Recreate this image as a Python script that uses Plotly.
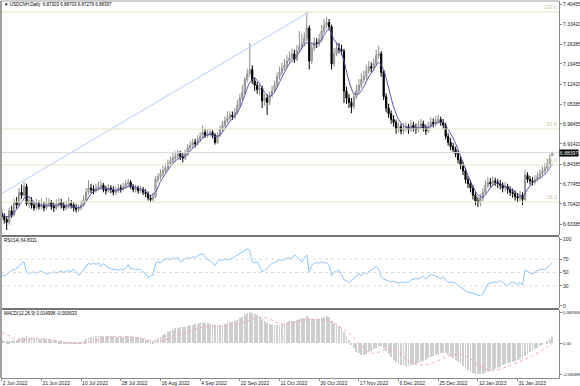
import plotly.graph_objects as go
from plotly.subplots import make_subplots

# ---------------- data ----------------
OPEN = [6.672,6.660,6.650,6.640,6.680,6.665,6.710,6.700,6.745,6.735,6.765,6.705,6.715,6.700,6.690,6.705,6.695,6.700,6.690,6.705,
        6.710,6.695,6.690,6.700,6.710,6.700,6.690,6.695,6.705,6.700,6.690,6.685,6.690,6.700,6.720,6.745,6.760,6.755,6.750,6.760,
        6.765,6.770,6.755,6.750,6.760,6.755,6.745,6.750,6.760,6.755,6.765,6.775,6.780,6.765,6.755,6.760,6.750,6.755,6.745,6.740,
        6.725,6.720,6.730,6.790,6.800,6.810,6.820,6.830,6.845,6.855,6.865,6.870,6.880,6.870,6.865,6.880,6.900,6.910,6.920,6.915,
        6.930,6.940,6.955,6.945,6.950,6.955,6.945,6.920,6.945,6.965,6.980,6.995,7.005,7.015,7.010,7.025,7.050,7.075,7.095,7.140,
        7.160,7.175,7.135,7.120,7.105,7.110,7.065,7.075,7.060,7.085,7.100,7.120,7.150,7.165,7.180,7.190,7.205,7.215,7.230,7.210,
        7.240,7.255,7.265,7.285,7.320,7.205,7.250,7.270,7.265,7.280,7.310,7.330,7.340,7.325,7.195,7.230,7.250,7.245,7.240,7.100,
        7.075,7.060,7.045,7.080,7.100,7.120,7.140,7.150,7.170,7.185,7.180,7.195,7.225,7.230,7.165,7.080,7.040,7.020,7.000,6.990,
        6.965,6.975,6.960,6.970,6.975,6.965,6.980,6.970,6.965,6.975,6.985,6.970,6.960,6.975,6.990,6.985,6.995,7.000,6.990,6.980,
        6.940,6.920,6.905,6.895,6.880,6.860,6.840,6.820,6.790,6.775,6.760,6.735,6.715,6.710,6.725,6.745,6.770,6.780,6.775,6.785,
        6.780,6.775,6.770,6.760,6.765,6.755,6.745,6.740,6.730,6.725,6.735,6.720,6.805,6.790,6.785,6.780,6.790,6.800,6.810,6.820,
        6.830,6.845,6.87303]
HIGH = [6.688,6.672,6.662,6.692,6.698,6.722,6.728,6.760,6.772,6.782,6.775,6.732,6.728,6.712,6.722,6.716,6.722,6.712,6.726,6.724,
        6.718,6.708,6.720,6.726,6.722,6.712,6.716,6.728,6.718,6.710,6.704,6.702,6.716,6.735,6.760,6.787,6.775,6.770,6.776,6.782,
        6.784,6.778,6.768,6.774,6.770,6.766,6.764,6.775,6.772,6.778,6.788,6.792,6.788,6.774,6.772,6.768,6.768,6.764,6.756,6.748,
        6.736,6.742,6.800,6.812,6.826,6.838,6.846,6.860,6.870,6.882,6.888,6.893,6.890,6.882,6.895,6.914,6.925,6.934,6.932,6.945,
        6.956,6.978,6.968,6.964,6.968,6.962,6.952,6.955,6.978,6.995,7.012,7.028,7.030,7.028,7.040,7.068,7.090,7.120,7.150,7.178,
        7.268,7.190,7.148,7.132,7.126,7.118,7.090,7.088,7.098,7.118,7.136,7.165,7.185,7.200,7.212,7.225,7.238,7.248,7.245,7.262,
        7.310,7.300,7.305,7.377,7.330,7.268,7.288,7.285,7.300,7.332,7.352,7.360,7.352,7.332,7.250,7.272,7.268,7.262,7.248,7.115,
        7.090,7.075,7.095,7.122,7.142,7.162,7.172,7.192,7.205,7.200,7.215,7.245,7.258,7.240,7.172,7.092,7.055,7.032,7.015,7.000,
        6.990,6.985,6.988,6.992,6.985,6.998,6.992,6.986,6.995,7.002,6.996,6.982,6.992,7.008,7.004,7.012,7.016,7.010,7.002,6.988,
        6.952,6.935,6.918,6.905,6.892,6.870,6.852,6.830,6.802,6.788,6.770,6.745,6.728,6.740,6.760,6.788,6.798,6.795,6.800,6.796,
        6.792,6.788,6.780,6.782,6.775,6.766,6.758,6.752,6.742,6.750,6.745,6.822,6.815,6.802,6.798,6.806,6.815,6.825,6.836,6.848,
        6.862,6.878,6.88703]
LOW = [6.648,6.636,6.613,6.632,6.655,6.660,6.688,6.694,6.722,6.728,6.698,6.690,6.688,6.680,6.684,6.685,6.686,6.678,6.684,6.694,
       6.684,6.676,6.682,6.692,6.688,6.680,6.682,6.688,6.688,6.678,6.674,6.676,6.682,6.694,6.714,6.738,6.742,6.738,6.744,6.750,
       6.754,6.745,6.738,6.744,6.742,6.734,6.736,6.742,6.744,6.748,6.756,6.762,6.756,6.745,6.744,6.740,6.742,6.735,6.728,6.716,
       6.710,6.712,6.724,6.778,6.790,6.800,6.812,6.822,6.836,6.846,6.852,6.860,6.858,6.850,6.858,6.872,6.890,6.900,6.902,6.908,
       6.920,6.932,6.935,6.936,6.940,6.934,6.912,6.914,6.938,6.958,6.972,6.988,6.996,6.998,7.002,7.018,7.042,7.066,7.088,7.130,
       7.150,7.124,7.100,7.090,7.085,7.040,7.048,7.016,7.050,7.076,7.092,7.112,7.140,7.155,7.170,7.182,7.196,7.205,7.198,7.205,
       7.232,7.245,7.255,7.275,7.175,7.195,7.240,7.250,7.255,7.272,7.300,7.318,7.312,7.175,7.185,7.222,7.232,7.225,7.058,7.055,
       7.040,7.022,7.036,7.070,7.090,7.110,7.128,7.140,7.160,7.165,7.170,7.188,7.212,7.150,7.068,7.025,7.005,6.985,6.975,6.950,
       6.955,6.948,6.950,6.958,6.950,6.956,6.958,6.950,6.955,6.965,6.958,6.946,6.952,6.968,6.972,6.976,6.985,6.978,6.968,6.930,
       6.908,6.892,6.882,6.868,6.846,6.826,6.805,6.776,6.760,6.745,6.720,6.700,6.693,6.695,6.715,6.738,6.760,6.762,6.765,6.768,
       6.760,6.755,6.745,6.748,6.740,6.732,6.726,6.716,6.710,6.712,6.700,6.715,6.778,6.772,6.768,6.772,6.782,6.792,6.802,6.812,
       6.822,6.838,6.87279]
CLOSE = [6.660,6.650,6.640,6.680,6.665,6.710,6.700,6.745,6.735,6.765,6.705,6.715,6.700,6.690,6.705,6.695,6.700,6.690,6.705,6.710,
         6.695,6.690,6.700,6.710,6.700,6.690,6.695,6.705,6.700,6.690,6.685,6.690,6.700,6.720,6.745,6.760,6.755,6.750,6.760,6.765,
         6.770,6.755,6.750,6.760,6.755,6.745,6.750,6.760,6.755,6.765,6.775,6.780,6.765,6.755,6.760,6.750,6.755,6.745,6.740,6.725,
         6.720,6.730,6.790,6.800,6.810,6.820,6.830,6.845,6.855,6.865,6.870,6.880,6.870,6.865,6.880,6.900,6.910,6.920,6.915,6.930,
         6.940,6.955,6.945,6.950,6.955,6.945,6.920,6.945,6.965,6.980,6.995,7.005,7.015,7.010,7.025,7.050,7.075,7.095,7.140,7.160,
         7.175,7.135,7.120,7.105,7.110,7.065,7.075,7.060,7.085,7.100,7.120,7.150,7.165,7.180,7.190,7.205,7.215,7.230,7.210,7.240,
         7.255,7.265,7.285,7.320,7.205,7.250,7.270,7.265,7.280,7.310,7.330,7.340,7.325,7.195,7.230,7.250,7.245,7.240,7.100,7.075,
         7.060,7.045,7.080,7.100,7.120,7.140,7.150,7.170,7.185,7.180,7.195,7.225,7.230,7.165,7.080,7.040,7.020,7.000,6.990,6.965,
         6.975,6.960,6.970,6.975,6.965,6.980,6.970,6.965,6.975,6.985,6.970,6.960,6.975,6.990,6.985,6.995,7.000,6.990,6.980,6.940,
         6.920,6.905,6.895,6.880,6.860,6.840,6.820,6.790,6.775,6.760,6.735,6.715,6.710,6.725,6.745,6.770,6.780,6.775,6.785,6.780,
         6.775,6.770,6.760,6.765,6.755,6.745,6.740,6.730,6.725,6.735,6.720,6.805,6.790,6.785,6.780,6.790,6.800,6.810,6.820,6.830,
         6.845,6.860,6.88397]

# moving average, read every second bar
MA_STEP = 2
MA = [6.668,6.660,6.665,6.685,6.710,6.733,6.722,6.705,6.700,6.698,6.700,6.700,6.702,6.698,6.697,6.692,6.693,6.712,6.740,6.752,
      6.760,6.758,6.756,6.752,6.755,6.762,6.768,6.763,6.757,6.748,6.733,6.745,6.782,6.810,6.835,6.855,6.867,6.872,6.890,6.908,
      6.925,6.942,6.948,6.940,6.945,6.968,6.993,7.012,7.040,7.085,7.130,7.145,7.125,7.095,7.080,7.095,7.130,7.165,7.195,7.212,
      7.235,7.262,7.272,7.262,7.268,7.295,7.318,7.280,7.255,7.205,7.135,7.090,7.090,7.115,7.150,7.175,7.200,7.175,7.110,7.045,
      7.000,6.978,6.970,6.970,6.970,6.975,6.972,6.982,6.990,6.990,6.965,6.935,6.895,6.850,6.805,6.765,6.735,6.728,6.748,6.770,
      6.778,6.770,6.762,6.752,6.740,6.730,6.755,6.778,6.790,6.800,6.818,6.845]

RSI = [46,45,47,50,53,54,56,59,64,66,51,48,50,51,49,50,52,50,48,49,50,51,49,50,52,50,51,53,51,55,
       51,46,49,54,59,64,62,64,62,64,59,63,60,57,56,54,55,53,55,54,56,62,55,56,54,55,54,51,48,42,
       45,46,64,66,64,68,69,71,69,72,70,73,66,67,71,72,71,74,72,75,77,78,73,70,68,65,60,66,69,68,
       70,69,70,71,74,76,78,80,83,85,83,66,64,66,59,51,54,56,60,64,65,67,69,68,70,71,72,70,76,74,
       70,65,71,76,51,61,64,65,64,66,65,64,61,45,51,51,54,46,39,38,35,38,41,44,49,45,50,48,51,54,
       57,59,55,44,40,39,38,36,37,35,34,36,35,36,35,39,40,41,40,43,44,40,44,47,46,45,43,40,44,39,
       35,36,35,34,31,28,25,23,21,20,18,17,16,15,18,25,33,34,35,36,35,38,35,33,30,34,36,34,32,35,
       31,54,51,49,48,51,53,54,55,54,57,61,65]
RSI_LEVELS = [70, 50, 30]

MACD = [0.007,0.006,0.005,0.005,0.006,0.007,0.009,0.012,0.014,0.016,0.017,
        0.014,0.013,0.012,0.011,0.011,0.010,0.010,0.010,0.009,0.009,
        0.007,0.006,0.005,0.004,0.003,0.002,0.002,0.001,0.001,0.001,
        0.001,0.003,0.006,0.011,0.014,0.016,0.017,0.018,0.019,0.019,
        0.019,0.018,0.018,0.017,0.016,0.016,0.016,0.015,0.016,0.017,0.018,0.017,0.016,0.015,0.014,
        0.012,0.011,0.009,0.007,0.005,0.005,0.008,
        0.012,0.016,0.020,0.024,0.028,0.032,0.035,0.038,0.040,0.041,0.041,0.042,0.044,
        0.046,0.048,0.049,0.050,0.051,0.052,0.052,0.051,0.050,0.049,0.046,0.045,0.046,0.048,0.050,
        0.052,0.054,0.055,0.057,0.060,0.064,0.068,0.073,0.077,0.080,
        0.079,0.076,0.072,0.068,0.062,0.057,0.052,0.049,0.047,0.046,
        0.047,0.048,0.050,0.052,0.054,0.056,0.058,0.058,0.060,0.062,
        0.064,0.066,0.070,0.064,0.063,0.063,0.062,0.063,0.066,0.068,0.069,0.067,
        0.056,0.050,0.047,0.043,0.040,0.028,0.018,0.008,
        -0.005,-0.014,-0.022,-0.027,-0.030,-0.030,-0.028,-0.024,-0.020,-0.016,
        -0.012,-0.008,-0.008,-0.012,-0.020,-0.028,-0.036,
        -0.043,-0.049,-0.054,-0.057,-0.059,-0.060,-0.060,-0.058,-0.056,
        -0.054,-0.052,-0.049,-0.046,-0.043,-0.040,-0.037,-0.034,-0.031,-0.028,-0.026,-0.025,
        -0.027,-0.031,-0.035,-0.040,-0.045,-0.050,-0.055,-0.060,-0.066,-0.071,-0.075,-0.078,
        -0.080,-0.081,-0.081,-0.080,
        -0.078,-0.076,-0.073,-0.070,-0.067,-0.064,-0.061,-0.058,-0.055,-0.053,-0.051,-0.049,-0.047,-0.045,-0.042,-0.040,-0.034,-0.029,
        -0.024,-0.020,-0.016,-0.012,-0.008,-0.004,0.000,0.005,0.010,0.015]

# signal line, read every second bar
SIG_STEP = 2
SIGNAL = [0.028,0.022,0.015,0.009,0.007,0.009,0.012,0.013,0.012,0.010,0.008,0.006,0.004,0.002,0.000,-0.001,-0.001,0.000,0.002,0.006,
          0.010,0.013,0.016,0.017,0.017,0.016,0.015,0.014,0.012,0.010,0.007,0.005,0.005,0.008,0.012,0.016,0.021,0.026,0.031,0.036,
          0.040,0.042,0.043,0.044,0.044,0.044,0.045,0.047,0.050,0.054,0.059,0.064,0.067,0.066,0.062,0.056,0.050,0.048,0.050,0.053,
          0.056,0.059,0.061,0.062,0.061,0.059,0.056,0.052,0.044,0.035,0.025,0.013,0.000,-0.014,-0.024,-0.027,-0.024,-0.018,-0.015,-0.018,
          -0.025,-0.035,-0.045,-0.053,-0.056,-0.057,-0.055,-0.051,-0.046,-0.040,-0.034,-0.030,-0.029,-0.031,-0.036,-0.045,-0.055,-0.064,-0.070,-0.072,
          -0.070,-0.066,-0.060,-0.055,-0.050,-0.044,-0.039,-0.033,-0.026,-0.019,-0.010,-0.001]

DATE_LABELS = ["2 Jun 2022","21 Jun 2022","10 Jul 2022","28 Jul 2022","16 Aug 2022","4 Sep 2022","22 Sep 2022",
               "11 Oct 2022","30 Oct 2022","17 Nov 2022","6 Dec 2022","25 Dec 2022","12 Jan 2023","31 Jan 2023"]
LABEL_STEP = 16

PRICE_TICKS = ["7.40455","7.33420","7.26385","7.19455","7.12420","7.05385","6.98455","6.91420",
               "6.84385","6.77455","6.70420","6.63385"]
RSI_TICKS = ["100","70","50","30","0"]
MACD_TICKS = ["0.080366","0.00","-0.08089"]
MACD_TICK_VALUES = [0.080366, 0.0, -0.08089]

FIB_LEVELS = [100.0, 61.8, 50.0, 38.2]
FIB_PRICES = [7.3765, 6.9667, 6.8406, 6.7110]
FIB_LINE_X = [-86, 124]
FIB_LINE_Y = [6.2996, 7.3765]

LAST_PRICE = 6.88397
HEADER = "▼ USDCNH,Daily  6.87303 6.88703 6.87279 6.88397"
RSI_TITLE = "RSI(14) 64.8331"
MACD_TITLE = "MACD(12,26,9) 0.014998 -0.000633"

# ---------------- figure ----------------
N = len(CLOSE)
IDX = list(range(N))
MA_IDX = list(range(0, N, MA_STEP))
SIG_IDX = list(range(0, N, SIG_STEP))

FONT = "Liberation Sans"
GRID = "#8a8a8a"

fig = make_subplots(rows=3, cols=1, shared_xaxes=True, vertical_spacing=0)

fig.add_trace(go.Scatter(x=FIB_LINE_X, y=FIB_LINE_Y, mode="lines",
                         line=dict(color="#b4cdf6", width=1), hoverinfo="skip"), row=1, col=1)
fig.add_trace(go.Candlestick(x=IDX, open=OPEN, high=HIGH, low=LOW, close=CLOSE,
                             increasing=dict(line=dict(color="#8f8f8f", width=1), fillcolor="#d4d4d4"),
                             decreasing=dict(line=dict(color="#000000", width=1), fillcolor="#000000"),
                             whiskerwidth=0), row=1, col=1)
fig.add_trace(go.Scatter(x=MA_IDX, y=MA, mode="lines",
                         line=dict(color="#5252a4", width=1, shape="spline", smoothing=0.6)), row=1, col=1)

fig.add_trace(go.Scatter(x=IDX, y=RSI, mode="lines", line=dict(color="#8cc4f6", width=1)), row=2, col=1)

fig.add_trace(go.Bar(x=IDX, y=MACD, width=0.35, marker=dict(color="#cfcfcf", line=dict(width=0))), row=3, col=1)
fig.add_trace(go.Scatter(x=SIG_IDX, y=SIGNAL, mode="lines",
                         line=dict(color="#f5aaaa", width=1, dash="dot", shape="spline")), row=3, col=1)

for lvl, p in zip(FIB_LEVELS, FIB_PRICES):
    fig.add_hline(y=p, line=dict(color="#e9e4c6", width=1), row=1, col=1)
    fig.add_annotation(x=1, xref="x domain", y=p, yref="y", xanchor="right", yanchor="bottom",
                       text=f"{lvl:.1f}", showarrow=False, font=dict(family=FONT, size=5, color="#cbc29a"))
fig.add_hline(y=LAST_PRICE, line=dict(color="#d6d6d6", width=1), row=1, col=1)
for lv in RSI_LEVELS:
    fig.add_hline(y=lv, line=dict(color="#dadada", width=1, dash="dot"), row=2, col=1)

fig.add_annotation(x=1, xref="paper", y=LAST_PRICE, yref="y", xanchor="left", yanchor="middle",
                   text=f"{LAST_PRICE:.5f}", showarrow=False, bgcolor="#000000", borderpad=0,
                   font=dict(family=FONT, size=5, color="#ffffff"))

# pane titles
title_font = dict(family=FONT, size=4.5, color="#000000")
fig.add_annotation(x=0.002, xref="paper", y=0.992, yref="paper", xanchor="left", yanchor="middle",
                   text=HEADER, showarrow=False, font=title_font)
fig.add_annotation(x=0.002, xref="paper", y=0.366, yref="paper", xanchor="left", yanchor="middle",
                   text=RSI_TITLE, showarrow=False, font=title_font)
fig.add_annotation(x=0.002, xref="paper", y=0.1724, yref="paper", xanchor="left", yanchor="middle",
                   text=MACD_TITLE, showarrow=False, font=title_font)

# pane borders
for yp, w, c in [(1.0, 1, "#a0a0a0"), (0.3767, 2, "#757575"), (0.1830, 2, "#757575")]:
    fig.add_shape(type="line", xref="paper", yref="paper", x0=0, x1=1, y0=yp, y1=yp,
                  line=dict(color=c, width=w))
fig.add_shape(type="line", xref="paper", yref="paper", x0=0, x1=0, y0=0, y1=1,
              line=dict(color="#a0a0a0", width=2))

tickfont = dict(family=FONT, size=5, color="#222222")
xr = [-0.3, 224.7]
fig.update_xaxes(range=xr, showgrid=False, zeroline=False, automargin=False, rangeslider_visible=False)
fig.update_xaxes(row=3, col=1, tickmode="array",
                 tickvals=[k * LABEL_STEP for k in range(len(DATE_LABELS))], ticktext=DATE_LABELS,
                 ticks="outside", ticklen=2, tickcolor=GRID, ticklabelposition="outside right",
                 tickfont=tickfont, showline=True, linecolor=GRID, linewidth=1)

common_y = dict(side="right", showgrid=False, zeroline=False, automargin=False, ticks="outside",
                ticklen=2, tickcolor=GRID, showline=True, linecolor=GRID, linewidth=1)
fig.update_layout(
    yaxis=dict(domain=[0.3793, 1.0], range=[6.5954, 7.4151], tickmode="array",
               tickvals=[float(t) for t in PRICE_TICKS], ticktext=PRICE_TICKS, tickfont=tickfont, **common_y),
    yaxis2=dict(domain=[0.1857, 0.3740], range=[-3, 103], tickmode="array",
                tickvals=[float(t) for t in RSI_TICKS], ticktext=RSI_TICKS, tickfont=tickfont, **common_y),
    yaxis3=dict(domain=[0.0, 0.1804], range=[-0.0907, 0.0856], tickmode="array",
                tickvals=MACD_TICK_VALUES, ticktext=MACD_TICKS,
                tickfont=dict(family=FONT, size=4.3, color="#222222"), **common_y),
)

fig.update_layout(width=580, height=386, autosize=False,
                  margin=dict(l=1, r=21, t=1, b=8, pad=0),
                  paper_bgcolor="#ffffff", plot_bgcolor="#ffffff",
                  showlegend=False, bargap=0, font=dict(family=FONT, size=5))

fig.write_html("out.html")
